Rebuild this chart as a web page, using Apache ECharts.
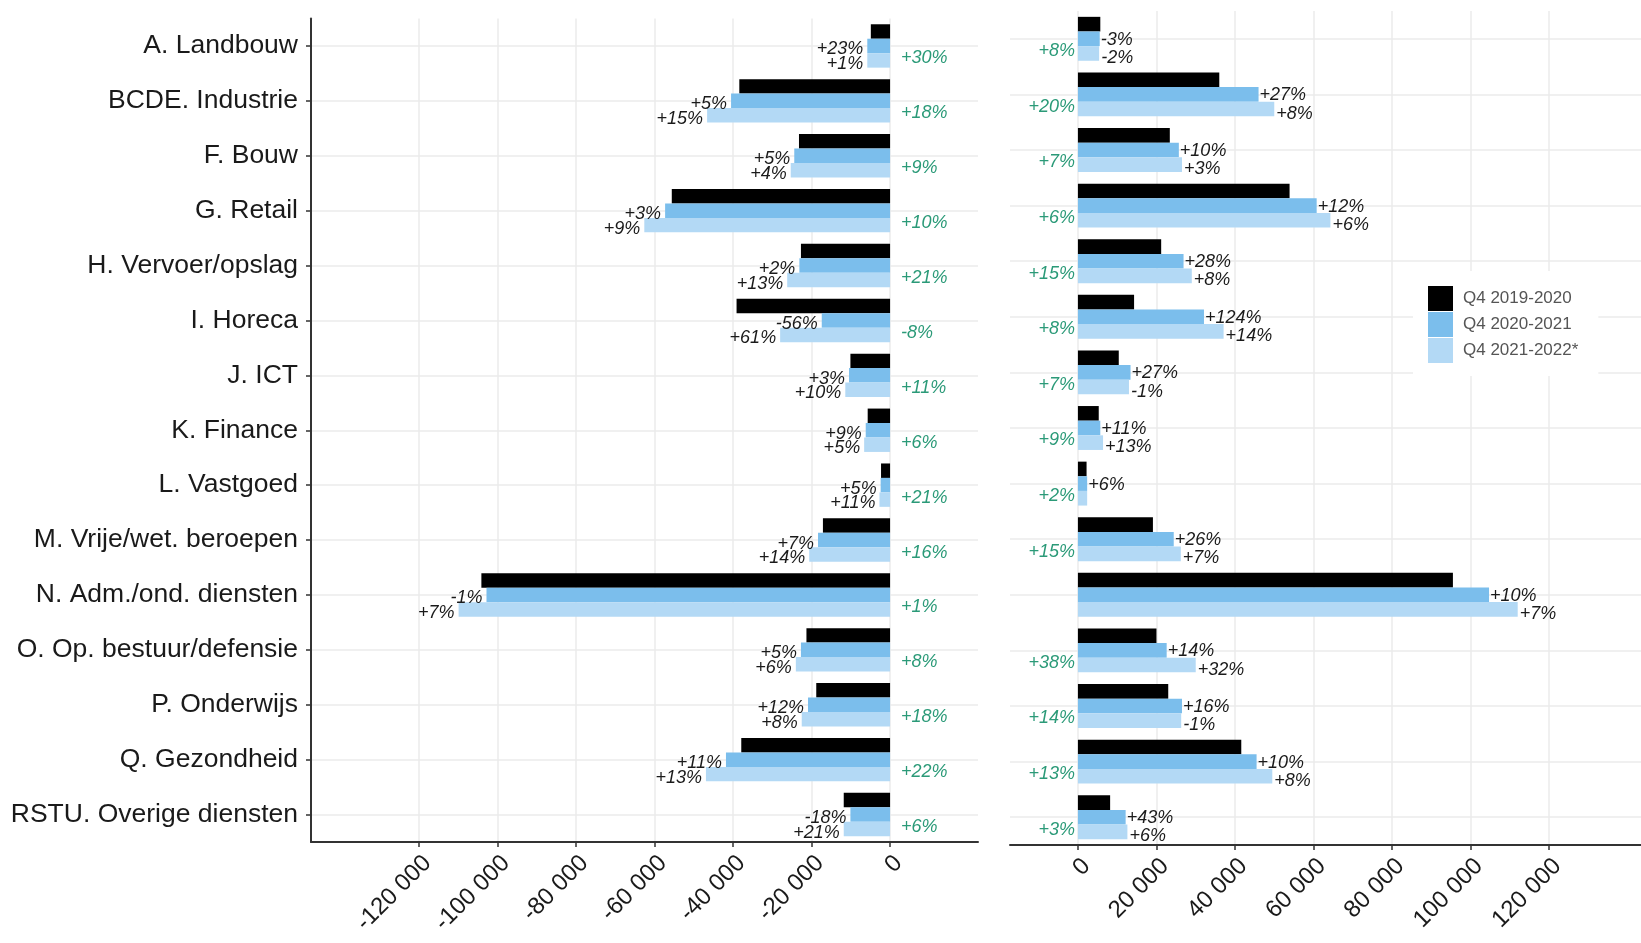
<!DOCTYPE html>
<html>
  <head>
    <meta charset="UTF-8">
    <script src="https://cdn.jsdelivr.net/npm/echarts@6/dist/echarts.min.js"></script>
    <title>Q4 per sector</title>
  </head>
  <body style="margin:0;background:#fff;">
    <div id="main" style="width:1641px;height:943px;"></div>
  <script>
// sectors, top to bottom
var categories = ['A. Landbouw', 'BCDE. Industrie', 'F. Bouw', 'G. Retail', 'H. Vervoer/opslag',
  'I. Horeca', 'J. ICT', 'K. Finance', 'L. Vastgoed', 'M. Vrije/wet. beroepen',
  'N. Adm./ond. diensten', 'O. Op. bestuur/defensie', 'P. Onderwijs', 'Q. Gezondheid', 'RSTU. Overige diensten'];
var seriesNames = ['Q4 2019-2020', 'Q4 2020-2021', 'Q4 2021-2022*'];

// left panel (negative side)
var leftBlack = [-4900, -38400, -23200, -55600, -22700, -39100, -10100, -5700, -2300, -17100, -104100, -21300, -18800, -37900, -11800];
var leftBlue  = [-5800, -40500, -24400, -57300, -23100, -17400, -10450, -6200, -2400, -18350, -102800, -22700, -20900, -41800, -10100];
var leftLight = [-5800, -46600, -25300, -62600, -26200, -28000, -11400, -6600, -2700, -20600, -109900, -24000, -22500, -46900, -11800];
var leftBlueLbl  = ['+23%', '+5%', '+5%', '+3%', '+2%', '-56%', '+3%', '+9%', '+5%', '+7%', '-1%', '+5%', '+12%', '+11%', '-18%'];
var leftLightLbl = ['+1%', '+15%', '+4%', '+9%', '+13%', '+61%', '+10%', '+5%', '+11%', '+14%', '+7%', '+6%', '+8%', '+13%', '+21%'];
var leftTotal    = ['+30%', '+18%', '+9%', '+10%', '+21%', '-8%', '+11%', '+6%', '+21%', '+16%', '+1%', '+8%', '+18%', '+22%', '+6%'];

// right panel (positive side)
var rightBlack = [5700, 36000, 23400, 53900, 21200, 14300, 10400, 5300, 2200, 19100, 95500, 20000, 23000, 41600, 8200];
var rightBlue  = [5550, 46000, 25700, 60800, 26900, 32100, 13400, 5700, 2350, 24400, 104700, 22600, 26500, 45500, 12150];
var rightLight = [5400, 50000, 26500, 64300, 29000, 37100, 13000, 6400, 2350, 26200, 112000, 30000, 26300, 49500, 12600];
var rightBlueLbl  = ['-3%', '+27%', '+10%', '+12%', '+28%', '+124%', '+27%', '+11%', '+6%', '+26%', '+10%', '+14%', '+16%', '+10%', '+43%'];
var rightLightLbl = ['-2%', '+8%', '+3%', '+6%', '+8%', '+14%', '-1%', '+13%', '', '+7%', '+7%', '+32%', '-1%', '+8%', '+6%'];
var rightTotal    = ['+8%', '+20%', '+7%', '+6%', '+15%', '+8%', '+7%', '+9%', '+2%', '+15%', '', '+38%', '+14%', '+13%', '+3%'];

var leftTicks = [-120000, -100000, -80000, -60000, -40000, -20000, 0];
var rightTicks = [0, 20000, 40000, 60000, 80000, 100000, 120000];

var colors = ['#000000', '#7bbeec', '#b3d9f5'];
var green = '#2b9a78';
var fontFam = '"Liberation Sans", Arial, sans-serif';
var gridColor = '#ebebeb';

// category centres, used for the horizontal grid lines
var catIndex = categories.map(function (c, i) { return i; });

function fmt(v) {
  return String(v).replace(/\B(?=(\d{3})+(?!\d))/g, ' ');
}

function bar(i, axis, data, lbl, pos, dist, dy, col) {
  return {
    name: seriesNames[i],
    type: 'bar',
    xAxisIndex: axis,
    yAxisIndex: axis,
    data: data,
    barGap: '0%',
    barCategoryGap: '21%',
    itemStyle: {color: colors[i]},
    label: {
      show: true,
      position: pos,
      distance: dist,
      offset: [0, dy],
      fontFamily: fontFam,
      fontSize: 18,
      fontStyle: 'italic',
      color: col || '#1a1a1a',
      formatter: function (p) { return lbl[p.dataIndex]; }
    }
  };
}

function xAx(idx, min, max, ticks) {
  return {
    gridIndex: idx,
    type: 'value',
    min: min,
    max: max,
    axisLine: {show: true, onZero: false, lineStyle: {color: '#333', width: 2}},
    axisTick: {show: true, length: 5, lineStyle: {color: '#333', width: 1.5}, customValues: ticks},
    splitLine: {show: true, lineStyle: {color: gridColor, width: 1.5}},
    axisLabel: {
      customValues: ticks,
      rotate: 45,
      margin: 9,
      align: 'right',
      verticalAlign: 'top',
      fontFamily: fontFam,
      fontSize: 24,
      lineHeight: 24,
      color: '#1a1a1a',
      formatter: fmt
    }
  };
}

function yAx(idx, showAxis) {
  return {
    gridIndex: idx,
    type: 'category',
    inverse: true,
    data: categories,
    axisLine: {show: showAxis, onZero: false, lineStyle: {color: '#333', width: 2}},
    axisTick: {show: showAxis, alignWithLabel: true, interval: 0, length: 5, lineStyle: {color: '#333', width: 1.5}},
    splitLine: {show: false},
    axisLabel: {
      show: showAxis,
      interval: 0,
      margin: 13,
      padding: [5, 0, 0, 0],
      fontFamily: fontFam,
      fontSize: 26.5,
      color: '#1a1a1a'
    }
  };
}

// hidden helper axis that only draws grid lines through category centres
function yGrid(idx) {
  return {
    gridIndex: idx,
    type: 'value',
    inverse: true,
    min: -0.5,
    max: categories.length - 0.5,
    position: 'right',
    axisLine: {show: false},
    axisLabel: {show: false, customValues: catIndex},
    axisTick: {show: false, customValues: catIndex},
    splitLine: {show: true, lineStyle: {color: gridColor, width: 1.5}}
  };
}

var chart = echarts.init(document.getElementById('main'));

var option = {
  backgroundColor: '#ffffff',
  animation: false,
  grid: [
    {left: 311, width: 667, top: 18.5, height: 823.5},
    {left: 1010, width: 631, top: 11, height: 834}
  ],
  legend: {
    data: seriesNames,
    orient: 'vertical',
    left: 1413,
    top: 271,
    padding: [15, 20, 13, 15],
    backgroundColor: '#ffffff',
    icon: 'rect',
    itemWidth: 25,
    itemHeight: 25,
    itemGap: 1,
    textStyle: {fontFamily: fontFam, fontSize: 17, color: '#555555', padding: [0, 0, 0, 5]}
  },
  xAxis: [
    xAx(0, -147500, 22400, leftTicks),
    xAx(1, -17300, 143400, rightTicks)
  ],
  yAxis: [
    yAx(0, true),
    yAx(1, false),
    yGrid(0),
    yGrid(1)
  ],
  series: [
    bar(0, 0, leftBlack, leftTotal, 'right', 11, 27, green),
    bar(1, 0, leftBlue, leftBlueLbl, 'left', 4, 3.5),
    bar(2, 0, leftLight, leftLightLbl, 'left', 4, 3.5),
    bar(0, 1, rightBlack, rightTotal, 'left', 3, 27, green),
    bar(1, 1, rightBlue, rightBlueLbl, 'right', 1, 1),
    bar(2, 1, rightLight, rightLightLbl, 'right', 2, 4.5)
  ]
};

chart.setOption(option);
  </script>
  </body>
</html>
